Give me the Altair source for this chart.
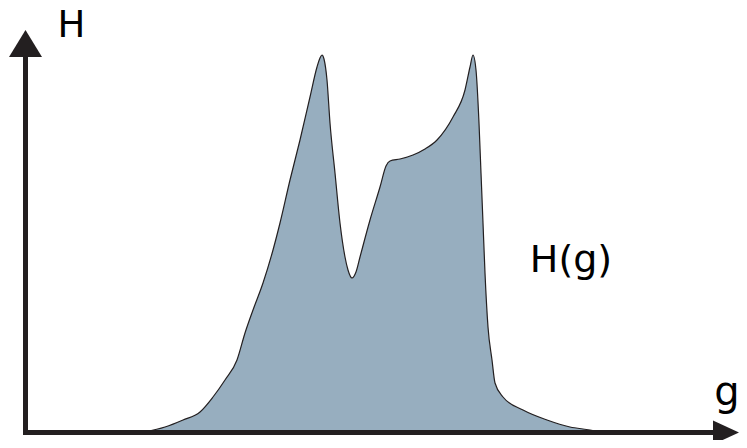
import altair as alt
import pandas as pd

# Curve H(g): g along the horizontal axis, H up the vertical axis
g_vals = [118, 138, 156, 173, 186, 198, 210, 218, 226, 236, 246, 253, 263, 273, 283,
          290, 293, 295, 297, 300, 303, 308, 313, 318, 321, 325, 329, 333, 343, 353,
          359, 363, 373, 386, 398, 410, 426, 438, 443, 446, 449, 452, 454, 456, 458,
          461, 465, 468, 476, 496, 520, 543, 563, 573]
h_vals = [0, 5, 12, 20, 35, 52, 72, 99, 122, 149, 182, 209, 252, 292, 335,
          365, 374, 377, 373, 352, 309, 259, 209, 175, 162, 154, 160, 175, 212, 245,
          266, 271, 273, 277, 283, 292, 315, 342, 365, 377, 362, 309, 259, 209, 159,
          105, 72, 49, 35, 22, 12, 5, 2, 0]

# Axis lines (shafts)
axis_x = [-1.5, -4]
axis_x2 = [-1.5, 689]
axis_y = [-3, -0.5]
axis_y2 = [376, -0.5]

# Arrow heads
head_x = [-1.5, 699]
head_y = [388.5, -0.5]
head_shape = ["M0,-0.82L1,0.82L-1,0.82Z", "M1,0L-1,-0.92L-1,0.92Z"]
head_size = [1089, 676]

# Labels
label_text = ["H", "g", "H(g)"]
label_x = [44.5, 700, 544]
label_y = [395, 27, 160]
label_size = [37, 40, 38]

W, H = 731, 432
xs = alt.Scale(domain=[-19, 712], range=[0, W], nice=False, zero=False)
ys = alt.Scale(domain=[-8, 424], nice=False, zero=False)

curve = pd.DataFrame({"g": g_vals, "H": h_vals})
axes = pd.DataFrame({"x": axis_x, "x2": axis_x2, "y": axis_y, "y2": axis_y2})
heads = pd.DataFrame({"x": head_x, "y": head_y, "shape": head_shape, "size": head_size})
labels = pd.DataFrame({"t": label_text, "x": label_x, "y": label_y, "s": label_size})

area = alt.Chart(curve).mark_area(
    interpolate="monotone", color="#97aebf", stroke="#231f20", strokeWidth=1.2
).encode(
    x=alt.X("g:Q", scale=xs, axis=None),
    y=alt.Y("H:Q", scale=ys, axis=None),
)

rules = alt.Chart(axes).mark_rule(color="#231f20", strokeWidth=5, strokeCap="butt").encode(
    x=alt.X("x:Q", scale=xs, axis=None),
    x2="x2:Q",
    y=alt.Y("y:Q", scale=ys, axis=None),
    y2="y2:Q",
)

arrows = alt.Chart(heads).mark_point(filled=True, color="#231f20", opacity=1, strokeWidth=0).encode(
    x=alt.X("x:Q", scale=xs, axis=None),
    y=alt.Y("y:Q", scale=ys, axis=None),
    shape=alt.Shape("shape:N", scale=None),
    size=alt.Size("size:Q", scale=None),
)

texts = alt.Chart(labels).mark_text(
    font="DejaVu Sans", align="center", baseline="alphabetic", color="#000000"
).encode(
    x=alt.X("x:Q", scale=xs, axis=None),
    y=alt.Y("y:Q", scale=ys, axis=None),
    text="t:N",
    size=alt.Size("s:Q", scale=None),
)

chart = alt.layer(area, rules, arrows, texts).properties(
    width=W, height=H, padding=0, autosize=alt.AutoSizeParams(type="none")
).configure_view(stroke=None)

chart.save("out.html", embed_options={"renderer": "svg", "actions": False})
